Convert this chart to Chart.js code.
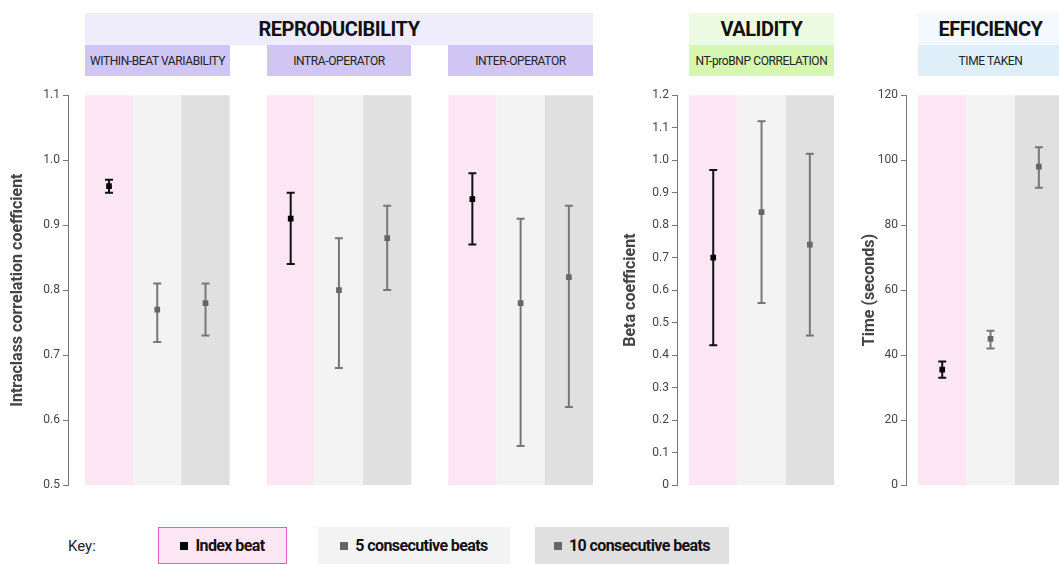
<!DOCTYPE html>
<html><head><meta charset="utf-8">
<script src="https://cdn.jsdelivr.net/npm/chart.js@4"></script>
<style>
body{margin:0;width:1059px;height:564px;overflow:hidden;background:#fff;font-family:Roboto,sans-serif;position:relative}
.b{position:absolute;display:flex;align-items:center;justify-content:center;color:#111;white-space:nowrap;overflow:hidden}
.t{font-weight:bold;font-size:20px;letter-spacing:-0.5px}
.s{font-size:12px;color:#222;letter-spacing:-0.4px}
canvas{position:absolute}
.k{position:absolute;top:527px;height:37px;display:flex;align-items:center;justify-content:center;font-weight:bold;font-size:16px;color:#111;box-sizing:border-box;white-space:nowrap;letter-spacing:-0.6px}
.sq{display:inline-block;width:8px;height:8px;margin-right:7px}
</style></head><body>
<div class="b t" style="left:85px;top:13px;width:508px;height:32px;background:#efedfb">REPRODUCIBILITY</div>
<div class="b s" style="left:85px;top:45px;width:145px;height:31px;background:#cfc6f4">WITHIN-BEAT VARIABILITY</div>
<div class="b s" style="left:267px;top:45px;width:144px;height:31px;background:#cfc6f4">INTRA-OPERATOR</div>
<div class="b s" style="left:448px;top:45px;width:145px;height:31px;background:#cfc6f4">INTER-OPERATOR</div>
<div class="b t" style="left:689px;top:13px;width:145px;height:32px;background:#eefbe3">VALIDITY</div>
<div class="b s" style="left:689px;top:45px;width:145px;height:31px;background:#d6f7b0">NT-proBNP CORRELATION</div>
<div class="b t" style="left:918px;top:13px;width:145px;height:32px;background:#f3f9fe">EFFICIENCY</div>
<div class="b s" style="left:918px;top:45px;width:145px;height:31px;background:#deeffa">TIME TAKEN</div>
<canvas id="c1" style="left:0;top:85px;width:600px;height:415px"></canvas>
<canvas id="c2" style="left:600px;top:85px;width:240px;height:415px"></canvas>
<canvas id="c3" style="left:830px;top:85px;width:240px;height:415px"></canvas>
<div style="position:absolute;left:68px;top:537px;font-size:15px;color:#222">Key:</div>
<div class="k" style="left:158px;width:129px;background:#fde6f3;border:1px solid #ea5cb6"><span class="sq" style="background:#000"></span>Index beat</div>
<div class="k" style="left:318px;width:192px;background:#f3f3f3"><span class="sq" style="background:#666"></span>5 consecutive beats</div>
<div class="k" style="left:535px;width:194px;background:#e0e0e0"><span class="sq" style="background:#666"></span>10 consecutive beats</div>
<script>
const seriesLabels=["Index beat","5 consecutive beats","10 consecutive beats"];
const reproGroups=["WITHIN-BEAT VARIABILITY","INTRA-OPERATOR","INTER-OPERATOR"];
const reproMean=[[0.96,0.77,0.78],[0.91,0.80,0.88],[0.94,0.78,0.82]];
const reproLow=[[0.95,0.72,0.73],[0.84,0.68,0.80],[0.87,0.56,0.62]];
const reproHigh=[[0.97,0.81,0.81],[0.95,0.88,0.93],[0.98,0.91,0.93]];
const validMean=[0.70,0.84,0.74];
const validLow=[0.43,0.56,0.46];
const validHigh=[0.97,1.12,1.02];
const timeMean=[35.5,45,98];
const timeLow=[33,42,91.5];
const timeHigh=[38,47.5,104];

const G=0.765;
const bandColors=["#fde6f3","#f3f3f3","#e0e0e0"];
const markColors=["#000","#666","#666"];
const barColors=["#111","#777","#777"];
const FF='Roboto';

function makeChart(id,groups,means,lows,highs,yopt,title,padL,yW,padR,xmin){
  const nG=groups.length;
  const datasets=[0,1,2].map(s=>({label:seriesLabels[s],
    data:groups.map((g,gi)=>({x:gi*(3+G)+s+0.5,y:means[gi][s],lo:lows[gi][s],hi:highs[gi][s]})),
    pointStyle:'rect',radius:4,backgroundColor:markColors[s],borderColor:markColors[s],borderWidth:0}));
  const plug={id:'bg'+id,
    beforeDatasetsDraw(c){const ctx=c.ctx,x=c.scales.x,y=c.scales.y;
      for(let gi=0;gi<nG;gi++)for(let s=0;s<3;s++){
        const a=x.getPixelForValue(gi*(3+G)+s),b=x.getPixelForValue(gi*(3+G)+s+1);
        ctx.fillStyle=bandColors[s];ctx.fillRect(a,c.chartArea.top,b-a,c.chartArea.bottom-c.chartArea.top);}
      c.data.datasets.forEach((d,s)=>d.data.forEach(p=>{
        const px=x.getPixelForValue(p.x),t=y.getPixelForValue(p.hi),bt=y.getPixelForValue(p.lo);
        ctx.strokeStyle=barColors[s];ctx.lineWidth=2;ctx.beginPath();
        ctx.moveTo(px,t);ctx.lineTo(px,bt);ctx.moveTo(px-4,t);ctx.lineTo(px+4,t);ctx.moveTo(px-4,bt);ctx.lineTo(px+4,bt);ctx.stroke();}));
    }};
  return new Chart(document.getElementById(id),{type:'scatter',data:{datasets},plugins:[plug],
    options:{responsive:false,animation:false,devicePixelRatio:1,
      layout:{padding:{left:padL,right:padR,top:10,bottom:15}},
      plugins:{legend:{display:false},tooltip:{enabled:false}},
      scales:{x:{display:false,min:xmin,max:nG*3+(nG-1)*G},
        y:Object.assign({afterFit:s=>{s.width=yW},
          grid:{drawOnChartArea:false,drawTicks:true,tickLength:5,color:'#777'},
          border:{display:true,color:'#777',width:1},
          title:{display:true,text:title,color:'#444',font:{family:FF,size:16,weight:'bold'},padding:0}},yopt)}}});
}
function fit(id,w,h){const c=document.getElementById(id);c.width=w;c.height=h;}
fit('c1',600,415);fit('c2',240,415);fit('c3',240,415);
const tk={color:'#444',font:{family:FF,size:12},padding:3};
makeChart('c1',reproGroups,reproMean,reproLow,reproHigh,{min:0.5,max:1.1,ticks:Object.assign({stepSize:0.1,callback:v=>v.toFixed(1)},tk)},'Intraclass correlation coefficient',8,60,7,-0.35);
makeChart('c2',["NT-proBNP"],[validMean],[validLow],[validHigh],{min:0,max:1.2,ticks:Object.assign({stepSize:0.1,callback:v=>v===0?'0':v.toFixed(1)},tk)},'Beta coefficient',21,56,6,-0.25);
makeChart('c3',["TIME"],[timeMean],[timeLow],[timeHigh],{min:0,max:120,ticks:Object.assign({stepSize:20},tk)},'Time (seconds)',30,46,7,-0.25);
</script></body></html>
